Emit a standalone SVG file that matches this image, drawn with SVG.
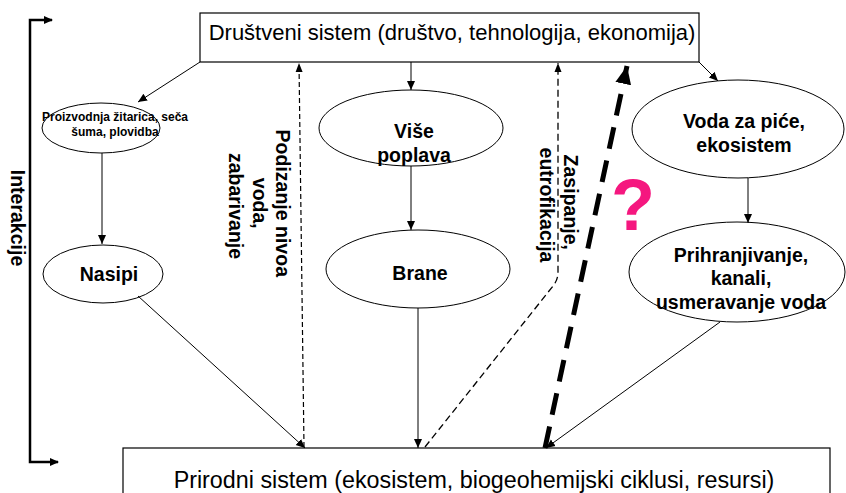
<svg xmlns="http://www.w3.org/2000/svg" width="846" height="493" viewBox="0 0 846 493">
  <style>
    .box { fill: #ffffff; stroke: #000000; stroke-width: 1.2; }
    .ell { fill: #ffffff; stroke: #000000; stroke-width: 1; }
    .big { font-family: "Liberation Sans", Arial, sans-serif; font-size: 22px; fill: #000; }
    .lbl { font-family: "Liberation Sans", Arial, sans-serif; font-size: 19.5px; font-weight: bold; fill: #000; }
    .sm { font-family: "Liberation Sans", Arial, sans-serif; font-size: 12px; font-weight: bold; fill: #000; }
    .con { fill: none; stroke: #000; stroke-width: 1; }
    .dash1 { fill: none; stroke: #000; stroke-width: 1.2; stroke-dasharray: 5 3; }
    .dash2 { fill: none; stroke: #000; stroke-width: 1.3; stroke-dasharray: 7 4; }
    .thick { fill: none; stroke: #000; stroke-width: 5; stroke-dasharray: 22 12; }
  </style>
  <defs>
    <marker id="a" markerUnits="userSpaceOnUse" markerWidth="10" markerHeight="10" viewBox="0 0 10 10" refX="9" refY="5" orient="auto">
      <path d="M0,1 L9,5 L0,9 Z" fill="#000"/>
    </marker>
    <marker id="ab" markerUnits="userSpaceOnUse" markerWidth="10" markerHeight="10" viewBox="0 0 10 10" refX="9" refY="5" orient="auto">
      <path d="M0,1.5 L9,5 L0,8.5 Z" fill="#000"/>
    </marker>
    <marker id="at" markerUnits="userSpaceOnUse" markerWidth="20" markerHeight="20" viewBox="0 0 20 20" refX="18" refY="10" orient="auto">
      <path d="M0,2 L18,10 L0,18 Z" fill="#000"/>
    </marker>
  </defs>

  <g id="interakcije">
    <path d="M52,20 L30,20 L30,462 L58,462" fill="none" stroke="#000" stroke-width="2.5"/>
    <path d="M44,16 L53,20 L44,24 Z" fill="#000"/>
    <path d="M50,458 L59,462 L50,466 Z" fill="#000"/>
    <text class="lbl" transform="translate(18,218) rotate(90)" x="0" y="7" text-anchor="middle">Interakcije</text>
  </g>

  <g id="drustveni">
    <rect class="box" x="200" y="13" width="499" height="49"/>
    <text class="big" x="452" y="40" text-anchor="middle">Društveni sistem (društvo, tehnologija, ekonomija)</text>
  </g>

  <g id="prirodni">
    <rect class="box" x="123" y="448" width="707" height="60"/>
    <text class="big" x="474" y="488" text-anchor="middle" style="font-size:23.3px">Prirodni sistem (ekosistem, biogeohemijski ciklusi, resursi)</text>
  </g>

  <g id="proizvodnja">
    <ellipse class="ell" cx="101" cy="128" rx="59" ry="25"/>
    <text class="sm" x="115" y="121" text-anchor="middle">Proizvodnja žitarica, seča</text>
    <text class="sm" x="115" y="136" text-anchor="middle">šuma, plovidba</text>
  </g>

  <g id="nasipi">
    <ellipse class="ell" cx="103" cy="274" rx="60" ry="29"/>
    <text class="lbl" x="109" y="281" text-anchor="middle">Nasipi</text>
  </g>

  <g id="vise">
    <ellipse class="ell" cx="411" cy="128" rx="92" ry="38"/>
    <text class="lbl" x="414" y="138" text-anchor="middle">Više</text>
    <text class="lbl" x="414" y="162" text-anchor="middle">poplava</text>
  </g>

  <g id="brane">
    <ellipse class="ell" cx="418" cy="269" rx="92" ry="39"/>
    <text class="lbl" x="420" y="280" text-anchor="middle">Brane</text>
  </g>

  <g id="voda">
    <ellipse class="ell" cx="738" cy="129" rx="106" ry="49"/>
    <text class="lbl" x="744" y="128" text-anchor="middle">Voda za piće,</text>
    <text class="lbl" x="744" y="152" text-anchor="middle">ekosistem</text>
  </g>

  <g id="prihranjivanje">
    <ellipse class="ell" cx="737" cy="272" rx="108" ry="50"/>
    <text class="lbl" x="741" y="262" text-anchor="middle">Prihranjivanje,</text>
    <text class="lbl" x="741" y="285" text-anchor="middle">kanali,</text>
    <text class="lbl" x="741" y="309" text-anchor="middle">usmeravanje voda</text>
  </g>

  <g id="connectors">
    <path class="con" d="M200,62 L138,102" marker-end="url(#a)"/>
    <path class="con" d="M102,153 L102,244" marker-end="url(#a)"/>
    <path class="con" d="M138,296 L305,448" marker-end="url(#a)"/>
    <path class="con" d="M411,62 L411,90" marker-end="url(#a)"/>
    <path class="con" d="M411,166 L411,230" marker-end="url(#a)"/>
    <path class="con" d="M418,308 L418,448" marker-end="url(#a)"/>
    <path class="con" d="M699,62 L718,81" marker-end="url(#a)"/>
    <path class="con" d="M748,178 L748,223" marker-end="url(#a)"/>
    <path class="con" d="M720,322 L546,448" marker-end="url(#a)"/>
    <path class="dash1" d="M304,447 L299,63" marker-end="url(#ab)"/>
    <path class="dash2" d="M425,447 L553,286 Q558,280 558,272 L558,63" marker-end="url(#ab)"/>
    <path class="thick" d="M545,448 L627,66" marker-end="url(#at)"/>
  </g>

  <g id="label-podizanje">
    <text class="lbl" transform="translate(260,206) rotate(90)" text-anchor="middle">
      <tspan x="0" y="-16">Podizanje nivoa</tspan>
      <tspan x="0" y="7">voda,</tspan>
      <tspan x="0" y="31">zabarivanje</tspan>
    </text>
  </g>

  <g id="label-zasipanje">
    <text class="lbl" transform="translate(559,205) rotate(90)" text-anchor="middle">
      <tspan x="0" y="-5">Zasipanje,</tspan>
      <tspan x="0" y="19">eutrofikacija</tspan>
    </text>
  </g>

  <g id="question">
    <text x="633" y="230" text-anchor="middle" font-family="Liberation Sans, Arial, sans-serif" font-size="72" font-weight="bold" fill="#f5177f">?</text>
  </g>
</svg>
